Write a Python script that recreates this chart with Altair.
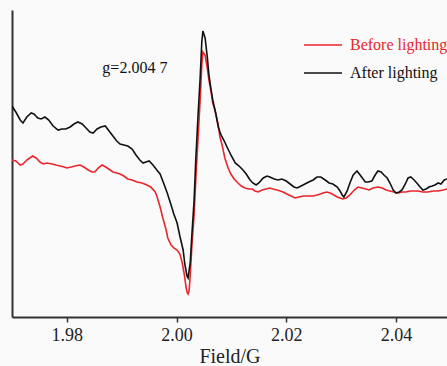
import altair as alt
import pandas as pd

# ---- data (field in G-value units, signal in arbitrary units) ----
after_field = [
    1.9700, 1.9707, 1.9715, 1.9720, 1.9727, 1.9735, 1.9740, 1.9747, 1.9753, 1.9760,
    1.9767, 1.9775, 1.9784, 1.9791, 1.9798, 1.9806, 1.9813, 1.9820, 1.9828, 1.9835,
    1.9842, 1.9848, 1.9855, 1.9862, 1.9870, 1.9877, 1.9884, 1.9891, 1.9897, 1.9904,
    1.9911, 1.9919, 1.9926, 1.9933, 1.9939, 1.9944, 1.9950, 1.9957, 1.9964, 1.9970,
    1.9977, 1.9983, 1.9990, 1.9995, 2.0001, 2.0006, 2.0012, 2.0015, 2.0019, 2.0021,
    2.0025, 2.0028, 2.0032, 2.0035, 2.0039, 2.0043, 2.0046, 2.0048, 2.0052, 2.0056,
    2.0059, 2.0063, 2.0066, 2.0072, 2.0076, 2.0081, 2.0087, 2.0092, 2.0099, 2.0107,
    2.0114, 2.0121, 2.0127, 2.0134, 2.0139, 2.0145, 2.0150, 2.0158, 2.0165, 2.0170,
    2.0178, 2.0185, 2.0192, 2.0200, 2.0207, 2.0214, 2.0220, 2.0227, 2.0234, 2.0241,
    2.0249, 2.0256, 2.0263, 2.0271, 2.0278, 2.0285, 2.0293, 2.0298, 2.0302, 2.0305,
    2.0311, 2.0316, 2.0322, 2.0329, 2.0336, 2.0344, 2.0349, 2.0356, 2.0362, 2.0367,
    2.0373, 2.0378, 2.0384, 2.0389, 2.0395, 2.0400, 2.0406, 2.0411, 2.0417, 2.0422,
    2.0427, 2.0433, 2.0438, 2.0444, 2.0449, 2.0455, 2.0460, 2.0466, 2.0471, 2.0477,
    2.0482, 2.0488, 2.0493,
]
after_signal = [
    211, 205, 197, 194, 200, 204, 203, 199, 198, 200,
    197, 191, 187, 188, 188, 190, 193, 195, 193, 189,
    185, 184, 188, 190, 191, 186, 181, 176, 173, 172,
    171, 168, 162, 157, 154, 155, 156, 152, 147, 143,
    133, 124, 112, 103, 94, 81, 67, 53, 41, 39,
    55, 83, 117, 157, 200, 239, 275, 286, 279, 260,
    242, 227, 217, 202, 190, 182, 176, 170, 162, 154,
    151, 147, 143, 137, 134, 132, 134, 139, 141, 140,
    138, 137, 138, 136, 133, 130, 129, 131, 133, 135,
    137, 140, 140, 137, 134, 133, 130, 126, 122, 120,
    126, 134, 142, 146, 141, 135, 135, 136, 142, 146,
    145, 142, 139, 134, 127, 124, 125, 127, 133, 139,
    140, 137, 134, 130, 127, 128, 130, 131, 132, 134,
    133, 137, 138,
]
before_field = [
    1.9700, 1.9707, 1.9715, 1.9720, 1.9727, 1.9735, 1.9738, 1.9744, 1.9751, 1.9757,
    1.9764, 1.9773, 1.9780, 1.9788, 1.9795, 1.9800, 1.9808, 1.9815, 1.9824, 1.9831,
    1.9839, 1.9846, 1.9851, 1.9857, 1.9864, 1.9871, 1.9879, 1.9884, 1.9891, 1.9897,
    1.9904, 1.9911, 1.9919, 1.9928, 1.9937, 1.9946, 1.9953, 1.9961, 1.9964, 1.9970,
    1.9975, 1.9981, 1.9984, 1.9990, 1.9995, 2.0001, 2.0006, 2.0010, 2.0014, 2.0017,
    2.0019, 2.0021, 2.0023, 2.0025, 2.0028, 2.0032, 2.0035, 2.0039, 2.0043, 2.0046,
    2.0048, 2.0052, 2.0056, 2.0059, 2.0063, 2.0066, 2.0070, 2.0076, 2.0079, 2.0083,
    2.0088, 2.0094, 2.0099, 2.0105, 2.0112, 2.0118, 2.0125, 2.0132, 2.0138, 2.0143,
    2.0149, 2.0156, 2.0163, 2.0170, 2.0176, 2.0183, 2.0189, 2.0194, 2.0201, 2.0209,
    2.0216, 2.0223, 2.0231, 2.0238, 2.0243, 2.0249, 2.0256, 2.0262, 2.0267, 2.0274,
    2.0280, 2.0287, 2.0293, 2.0298, 2.0303, 2.0309, 2.0316, 2.0324, 2.0331, 2.0338,
    2.0345, 2.0351, 2.0358, 2.0367, 2.0375, 2.0382, 2.0389, 2.0396, 2.0404, 2.0411,
    2.0418, 2.0426, 2.0433, 2.0440, 2.0449, 2.0458, 2.0468, 2.0477, 2.0486, 2.0493,
]
before_signal = [
    157, 156, 152, 153, 157, 160, 161, 159, 155, 153,
    154, 153, 152, 151, 150, 149, 150, 151, 152, 150,
    147, 145, 145, 149, 152, 150, 147, 145, 144, 143,
    141, 138, 137, 135, 134, 132, 130, 125, 121, 110,
    99, 87, 79, 72, 69, 67, 63, 55, 43, 31,
    25, 23, 27, 42, 72, 102, 137, 177, 217, 252,
    265, 262, 249, 237, 225, 214, 207, 192, 180, 172,
    159, 149, 143, 138, 134, 131, 129, 128, 128, 126,
    125, 127, 128, 129, 128, 127, 126, 125, 123, 121,
    119, 120, 121, 121, 121, 121, 122, 123, 124, 125,
    124, 122, 120, 119, 118, 119, 122, 127, 130, 129,
    128, 127, 129, 130, 129, 127, 126, 125, 124, 125,
    125, 126, 126, 126, 125, 125, 126, 126, 127, 128,
]
series_names = ["Before lighting", "After lighting"]
series_colors = ["#e8262c", "#111111"]
x_ticks = [1.98, 2.00, 2.02, 2.04]
annot_field = [1.9924]
annot_signal = [249]
annot_text = ["g=2.004 7"]

df = pd.concat([
    pd.DataFrame({"field": before_field, "signal": before_signal, "series": series_names[0]}),
    pd.DataFrame({"field": after_field, "signal": after_signal, "series": series_names[1]}),
])
annot = pd.DataFrame({"field": annot_field, "signal": annot_signal, "label": annot_text})

FONT = "Liberation Serif"

x = alt.X(
    "field:Q",
    scale=alt.Scale(domain=[1.97, 2.0493], nice=False, zero=False),
    axis=alt.Axis(
        values=x_ticks, format=".2f", title="Field/G", grid=False,
        labelFont=FONT, labelFontSize=18, labelColor="#222222", labelPadding=4,
        titleFont=FONT, titleFontSize=20, titleFontWeight="normal", titleColor="#222222",
        titlePadding=2, tickSize=5, tickColor="#333333", domainColor="#333333",
        domainWidth=2, tickWidth=1.5,
    ),
)
y = alt.Y(
    "signal:Q",
    scale=alt.Scale(domain=[0, 307], nice=False, zero=False),
    axis=alt.Axis(title=None, labels=False, ticks=False, grid=False,
                  domainColor="#333333", domainWidth=2),
)

lines = alt.Chart(df).mark_line(strokeWidth=1.6, clip=True).encode(
    x=x, y=y,
    color=alt.Color(
        "series:N",
        scale=alt.Scale(domain=series_names, range=series_colors),
        sort=series_names,
        legend=alt.Legend(
            title=None, orient="none", legendX=291, legendY=15,
            symbolType="stroke", symbolSize=1444, symbolStrokeWidth=1.6,
            labelFont=FONT, labelFontSize=16, labelOffset=7,
            labelColor={"expr": "datum.label == 'Before lighting' ? '#e8262c' : '#111111'"},
            rowPadding=-17, padding=0,
        ),
    ),
    order="field:Q",
)

text = alt.Chart(annot).mark_text(font=FONT, fontSize=16, color="#111111", baseline="middle").encode(
    x="field:Q", y="signal:Q", text="label:N"
)

chart = alt.layer(lines, text).properties(
    width=435, height=307,
    autosize=alt.AutoSizeParams(type="none"),
    padding={"left": 12, "top": 10, "right": 0, "bottom": 49},
    background="#fafafa",
).configure_view(stroke=None)

chart.save("out.html", embed_options={"renderer": "svg", "actions": False})
